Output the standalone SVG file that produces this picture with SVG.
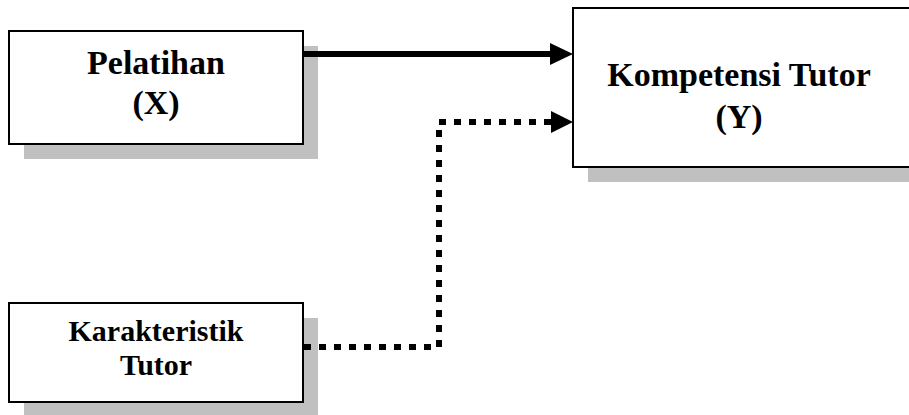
<svg xmlns="http://www.w3.org/2000/svg" width="909" height="415" viewBox="0 0 909 415">
  <style>
    .shadow { fill: #c0c0c0; stroke: none; }
    .box { fill: #ffffff; stroke: #000000; stroke-width: 2; }
    .lbl { font-family: "Liberation Serif", "Times New Roman", serif; font-weight: bold; fill: #000000; text-anchor: middle; }
    .solid { fill: none; stroke: #000000; stroke-width: 6; }
    .dotted { fill: none; stroke: #000000; stroke-width: 6; stroke-dasharray: 7 8; }
  </style>
  <rect x="0" y="0" width="909" height="415" fill="#ffffff"/>
  <g id="node-pelatihan">
    <rect class="shadow" x="24" y="46" width="294" height="113"/>
    <rect class="box" x="9" y="31" width="294" height="113"/>
    <text class="lbl" x="156" y="74" font-size="34">Pelatihan</text>
    <text class="lbl" x="156" y="114" font-size="34">(X)</text>
  </g>
  <g id="node-kompetensi">
    <rect class="shadow" x="588" y="23" width="340" height="159"/>
    <rect class="box" x="573" y="8" width="340" height="159"/>
    <text class="lbl" x="739" y="86" font-size="34">Kompetensi Tutor</text>
    <text class="lbl" x="739" y="128" font-size="34">(Y)</text>
  </g>
  <g id="node-karakteristik">
    <rect class="shadow" x="24" y="318" width="294" height="99"/>
    <rect class="box" x="9" y="303" width="294" height="99"/>
    <text class="lbl" x="156" y="341" font-size="30">Karakteristik</text>
    <text class="lbl" x="156" y="375" font-size="30">Tutor</text>
  </g>
  <g id="connectors">
    <line class="solid" x1="304" y1="54" x2="552" y2="54"/>
    <polygon points="550,43 573,54 550,65" fill="#000000"/>
    <path class="dotted" d="M304,347 H439 V122 H552"/>
    <polygon points="551,111 573,122 551,133" fill="#000000"/>
  </g>
</svg>
